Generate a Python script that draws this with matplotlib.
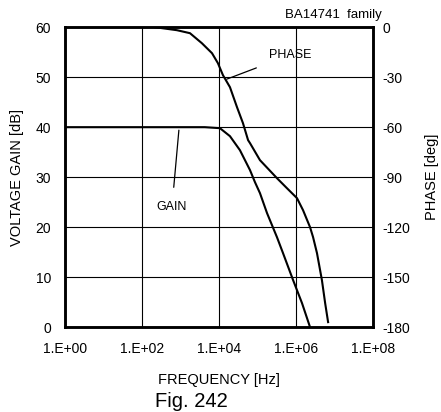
import numpy as np
from matplotlib import pyplot as plt

# gain curve (frequency Hz, dB)
gain_freq = [1.0, 4.3e3, 1.06e4, 1.93e4, 3.5e4, 6.4e4, 8.6e4, 1.16e5, 1.77e5,
             3.2e5, 4.6e5, 8.4e5, 1.43e6, 2.31e6]
gain_db = [40.0, 40.0, 39.8, 38.2, 35.4, 31.4, 29.0, 26.8, 22.8,
           18.0, 14.8, 9.4, 4.8, 0.0]

# phase curve (frequency Hz, deg)
phase_freq = [218, 811, 1.77e3, 3.6e3, 6.6e3, 9.4e3, 1.27e4, 1.93e4, 2.94e4, 4.2e4,
              5.7e4, 6.4e4, 1.16e5, 3.2e5, 5.8e5, 1.06e6, 1.52e6, 2.31e6, 2.77e6,
              3.5e6, 4.7e6, 5.7e6, 6.8e6]
phase_deg = [0.0, -1.8, -3.6, -9.6, -15.6, -21.6, -28.8, -36.0, -48.0, -57.6,
             -67.8, -69.6, -79.8, -90.6, -96.6, -102.6, -109.8, -120.0, -126.0,
             -135.6, -151.8, -165.6, -177.0]

x_ticks = [1e0, 1e2, 1e4, 1e6, 1e8]
x_labels = ['1.E+00', '1.E+02', '1.E+04', '1.E+06', '1.E+08']
gain_ticks = [0, 10, 20, 30, 40, 50, 60]
phase_ticks = [0, -30, -60, -90, -120, -150, -180]

plt.rcParams['font.family'] = ['Liberation Sans', 'DejaVu Sans']
plt.rcParams['axes.unicode_minus'] = False

fig = plt.figure(figsize=(4.41, 4.12), dpi=100)
ax1 = fig.add_axes([0.147, 0.206, 0.699, 0.728])
ax1.set_xscale('log')
ax1.set_xlim(1, 1e8)
ax1.set_ylim(0, 60)
ax1.set_xticks(x_ticks)
ax1.set_xticklabels(x_labels)
ax1.minorticks_off()
ax1.set_yticks(gain_ticks)
ax1.grid(True, color='black', lw=0.8)
ax1.tick_params(axis='y', length=0, labelsize=10, pad=10)
ax1.tick_params(axis='x', length=0, labelsize=10, pad=11)
for s in ax1.spines.values():
    s.set_linewidth(1.8)

ax1.plot(gain_freq, gain_db, color='black', lw=1.5)
ax1.set_xlabel('FREQUENCY [Hz]', fontsize=10.5, labelpad=12)
ax1.set_ylabel('VOLTAGE GAIN [dB]', fontsize=10.5, labelpad=8)

ax2 = ax1.twinx()
ax2.set_ylim(-180, 0)
ax2.set_yticks(phase_ticks)
ax2.tick_params(length=0, labelsize=10, pad=7)
ax2.plot(phase_freq, phase_deg, color='black', lw=1.5)
ax2.set_ylabel('PHASE [deg]', fontsize=10.5, labelpad=10)
for s in ax2.spines.values():
    s.set_linewidth(1.8)

ax1.annotate('PHASE', xy=(10**4.2, 49.6), xytext=(10**5.84, 54.4),
             ha='center', va='center', fontsize=9,
             arrowprops=dict(arrowstyle='-', color='black', lw=0.9, shrinkB=0, shrinkA=8))
ax1.annotate('GAIN', xy=(10**2.96, 39.4), xytext=(10**2.78, 24),
             ha='center', va='center', fontsize=9,
             arrowprops=dict(arrowstyle='-', color='black', lw=0.9, shrinkB=0, shrinkA=8))

fig.text(0.755, 0.963, 'BA14741  family', ha='center', va='center', fontsize=9.5)
fig.text(0.435, 0.026, 'Fig. 242', ha='center', va='center', fontsize=14.5)

fig.savefig('out.png', dpi=100)
